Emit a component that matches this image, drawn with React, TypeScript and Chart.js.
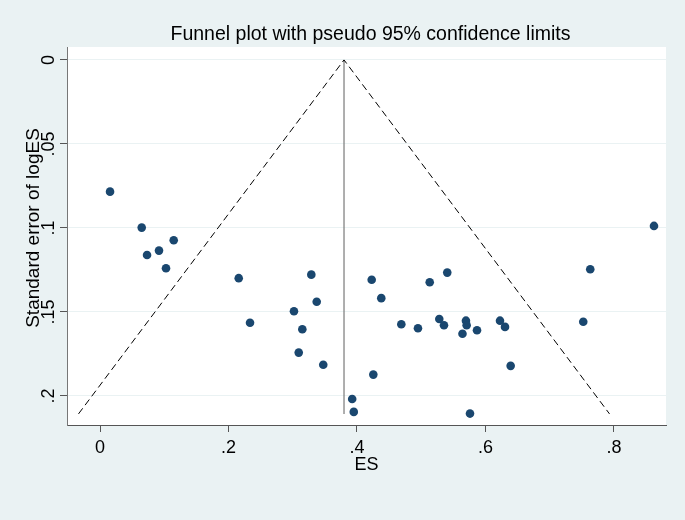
import React, { useEffect, useRef } from 'react';
import { Chart, registerables } from 'chart.js';

Chart.register(...registerables);

// Effect size (ES) of each study
const esValues = [
  0.0156, 0.0649, 0.1147, 0.0918, 0.0732, 0.1027, 0.2159, 0.2335,
  0.3289, 0.3373, 0.3019, 0.3149, 0.3093, 0.3475,
  0.4229, 0.4378, 0.4690, 0.4949, 0.5132, 0.5405, 0.5281, 0.5354,
  0.5696, 0.5707, 0.5642, 0.4254, 0.3925, 0.3950, 0.5759,
  0.5868, 0.6226, 0.6304, 0.6392, 0.7522, 0.7631, 0.8623,
];
// Standard error of logES for each study
const seValues = [
  0.0784, 0.0998, 0.1073, 0.1135, 0.1161, 0.1240, 0.1299, 0.1564,
  0.1278, 0.1439, 0.1496, 0.1603, 0.1742, 0.1814,
  0.1308, 0.1418, 0.1573, 0.1597, 0.1323, 0.1266, 0.1542, 0.1579,
  0.1552, 0.1579, 0.1630, 0.1873, 0.2018, 0.2095, 0.2105,
  0.1609, 0.1552, 0.1589, 0.1821, 0.1558, 0.1246, 0.0988,
];
// Pseudo 95% confidence limits (funnel) and pooled estimate line
const funnelX = [-0.0335, 0.3798, 0.7931];
const funnelSE = [0.2107, 0, 0.2107];
const centerX = [0.3798, 0.3798];
const centerSE = [0, 0.2107];

const xTicks = [0, 0.2, 0.4, 0.6, 0.8];
const yTicks = [0, 0.05, 0.1, 0.15, 0.2];
const xRange = [-0.0514, 0.881];
const yRange = [-0.0077, 0.2173];

const titleText = 'Funnel plot with pseudo 95% confidence limits';
const xTitle = 'ES';
const yTitle = 'Standard error of logES';

const FONT = '"Liberation Sans", Arial, Helvetica, sans-serif';

const fmt = (v: number) => {
  const s = String(parseFloat(v.toFixed(3)));
  return s.replace(/^0\./, '.').replace(/^-0\./, '-.');
};

const stataPlugin = {
  id: 'stataText',
  beforeDraw(chart: any) {
    const { ctx, chartArea: a } = chart;
    ctx.save();
    ctx.fillStyle = '#EAF2F3';
    ctx.fillRect(0, 0, chart.width, chart.height);
    ctx.fillStyle = '#FFFFFF';
    ctx.fillRect(a.left, a.top, a.right - a.left, a.bottom - a.top);
    ctx.restore();
  },
  afterDraw(chart: any) {
    const { ctx, chartArea: a, scales } = chart;
    ctx.save();
    ctx.fillStyle = '#000000';
    ctx.textBaseline = 'alphabetic';
    ctx.textAlign = 'center';
    // title
    ctx.font = `19.5px ${FONT}`;
    ctx.fillText(titleText, (a.left + a.right) / 2 + 4, 40);
    // x tick labels
    ctx.font = `18px ${FONT}`;
    scales.x.ticks.forEach((t: any) => {
      ctx.fillText(fmt(t.value), scales.x.getPixelForValue(t.value), 453);
    });
    // x title
    ctx.fillText(xTitle, (a.left + a.right) / 2, 470);
    // y tick labels (rotated)
    scales.y.ticks.forEach((t: any) => {
      const y = scales.y.getPixelForValue(t.value);
      ctx.save();
      ctx.translate(54, y);
      ctx.rotate(-Math.PI / 2);
      ctx.fillText(fmt(t.value), 0, 0);
      ctx.restore();
    });
    // y title
    ctx.font = `19px ${FONT}`;
    ctx.save();
    ctx.translate(39, (a.top + a.bottom) / 2 - 8);
    ctx.rotate(-Math.PI / 2);
    ctx.fillText(yTitle, 0, 0);
    ctx.restore();
    ctx.restore();
  },
};

export default function App() {
  const canvasRef = useRef<HTMLCanvasElement | null>(null);

  useEffect(() => {
    const canvas = canvasRef.current;
    if (!canvas) return;
    const points = esValues.map((x, i) => ({ x, y: seValues[i] }));
    const funnel = funnelX.map((x, i) => ({ x, y: funnelSE[i] }));
    const center = centerX.map((x, i) => ({ x, y: centerSE[i] }));

    const chart = new Chart(canvas, {
      type: 'scatter',
      data: {
        datasets: [
          {
            label: 'studies',
            data: points,
            backgroundColor: '#1A476F',
            borderColor: '#1A476F',
            borderWidth: 0,
            pointRadius: 4.3,
            showLine: false,
          },
          {
            label: 'funnel',
            data: funnel,
            showLine: true,
            borderColor: '#000000',
            borderWidth: 1,
            borderDash: [7, 4],
            pointRadius: 0,
            fill: false,
          },
          {
            label: 'center',
            data: center,
            showLine: true,
            borderColor: '#7a7a7a',
            borderWidth: 1.2,
            pointRadius: 0,
            fill: false,
          },
        ],
      },
      options: {
        responsive: false,
        animation: false,
        events: [],
        layout: { padding: { left: 0, top: 47, right: 19, bottom: 0 } },
        plugins: {
          legend: { display: false },
          tooltip: { enabled: false },
          title: { display: false },
        },
        scales: {
          x: {
            type: 'linear',
            position: 'bottom',
            min: xRange[0],
            max: xRange[1],
            afterBuildTicks: (s: any) => {
              s.ticks = xTicks.map((v) => ({ value: v }));
            },
            afterFit: (s: any) => {
              s.height = 95;
            },
            ticks: { display: false },
            grid: {
              drawOnChartArea: false,
              drawTicks: true,
              tickLength: 7,
              tickColor: '#555555',
              tickWidth: 1,
            },
            border: { display: true, color: '#555555', width: 1 },
          },
          y: {
            type: 'linear',
            reverse: true,
            min: yRange[0],
            max: yRange[1],
            afterBuildTicks: (s: any) => {
              s.ticks = yTicks.map((v) => ({ value: v }));
            },
            afterFit: (s: any) => {
              s.width = 67;
            },
            ticks: { display: false },
            grid: {
              drawOnChartArea: true,
              color: '#EAF2F3',
              lineWidth: 1,
              drawTicks: true,
              tickLength: 7,
              tickColor: '#555555',
              tickWidth: 1,
            },
            border: { display: true, color: '#777777', width: 1 },
          },
        },
      },
      plugins: [stataPlugin],
    });
    return () => chart.destroy();
  }, []);

  return (
    <div style={{ position: 'fixed', left: 0, top: 0, width: 685, height: 520, background: '#EAF2F3' }}>
      <canvas ref={canvasRef} width={685} height={520} style={{ display: 'block' }} />
    </div>
  );
}
